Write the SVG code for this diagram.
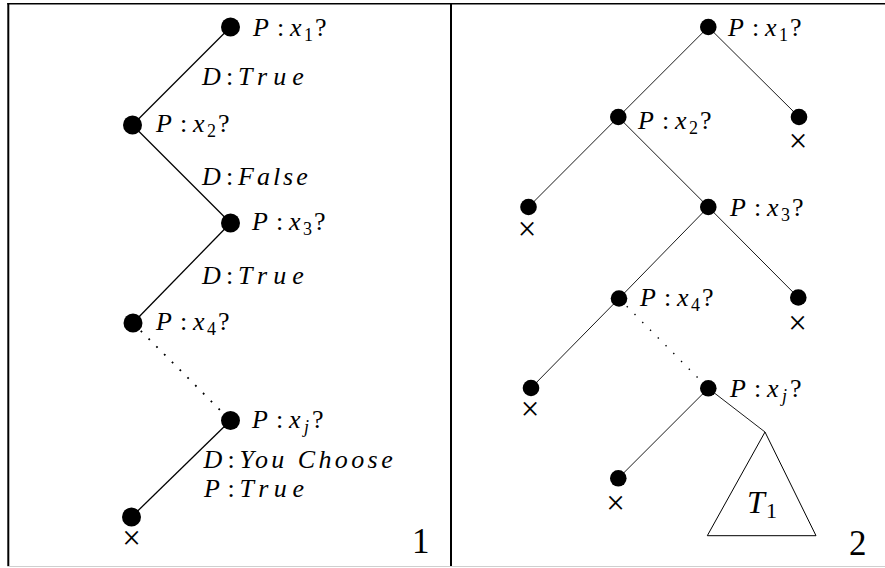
<svg xmlns="http://www.w3.org/2000/svg" width="885" height="568" viewBox="0 0 885 568">
<style>
.t{font-family:"Liberation Serif",serif;font-size:26px;fill:#000}
.i{font-style:italic}
.s{font-size:18px}
.num{font-family:"Liberation Serif",serif;font-size:35px;fill:#000}
.x{font-family:"Liberation Serif",serif;font-size:33px;fill:#000;text-anchor:middle}
.eL{stroke:#000;stroke-width:1.3;fill:none}
.eR{stroke:#000;stroke-width:0.9;fill:none}
.dot{stroke:#000;stroke-width:1.8;stroke-dasharray:1.8 9.2;fill:none}
.frame{stroke:#000;fill:none}
</style>
<rect x="0" y="0" width="885" height="568" fill="#fff"/>
<g id="frame">
<line class="frame" x1="7.3" y1="3.7" x2="885" y2="3.7" stroke-width="1.6"/>
<line class="frame" x1="8.3" y1="3" x2="8.3" y2="566" stroke-width="2"/>
<line class="frame" x1="451" y1="3" x2="451" y2="566" stroke-width="2"/>
<line x1="7.3" y1="566.5" x2="885" y2="566.5" stroke="#cfcfcf" stroke-width="1"/>
</g>
<g id="connectors">
<line class="eL" x1="230.5" y1="27" x2="132.5" y2="125"/>
<line class="eL" x1="132.5" y1="125" x2="230.5" y2="223"/>
<line class="eL" x1="230.5" y1="223" x2="133" y2="323"/>
<line class="dot" x1="133" y1="323" x2="230.5" y2="420.5"/>
<line class="eL" x1="230.5" y1="420.5" x2="131.5" y2="517"/>
<line class="eR" x1="708.3" y1="27" x2="618.3" y2="117"/>
<line class="eR" x1="708.3" y1="27" x2="799" y2="117"/>
<line class="eR" x1="618.3" y1="117" x2="528.5" y2="207"/>
<line class="eR" x1="618.3" y1="117" x2="708.3" y2="207"/>
<line class="eR" x1="708.3" y1="207" x2="619" y2="298.5"/>
<line class="eR" x1="708.3" y1="207" x2="798.3" y2="297.5"/>
<line class="eR" x1="619" y1="298.5" x2="531" y2="388"/>
<line class="dot" x1="619" y1="298.5" x2="708.3" y2="388.3" style="stroke-width:1.4;stroke-dasharray:1.4 9.6"/>
<line class="eR" x1="708.3" y1="388.3" x2="618.3" y2="478.3"/>
<line class="eR" x1="708.3" y1="388.3" x2="765" y2="432"/>
<g id="edge-labels">
<text class="t" x="202" y="85"><tspan class="i">D</tspan><tspan x="226">:</tspan><tspan class="i" x="238" style="letter-spacing:6px">True</tspan></text>
<text class="t" x="202" y="185"><tspan class="i">D</tspan><tspan x="226">:</tspan><tspan class="i" x="238" style="letter-spacing:3px">False</tspan></text>
<text class="t" x="202" y="284"><tspan class="i">D</tspan><tspan x="226">:</tspan><tspan class="i" x="238" style="letter-spacing:6px">True</tspan></text>
<text class="t" x="203.5" y="468"><tspan class="i">D</tspan><tspan x="227.5">:</tspan><tspan class="i" x="239.5" style="letter-spacing:3.4px">You Choose</tspan></text>
<text class="t" x="204" y="497"><tspan class="i">P</tspan><tspan x="227.5">:</tspan><tspan class="i" x="239.5" style="letter-spacing:5.6px">True</tspan></text>
</g>
</g>
<g id="L1"><circle cx="230.5" cy="27" r="9.5"/><text class="t" x="253" y="36"><tspan class="i">P</tspan><tspan x="277">:</tspan><tspan class="i" x="290">x</tspan><tspan class="s" x="304" dy="5">1</tspan><tspan x="315" dy="-5">?</tspan></text></g>
<g id="L2"><circle cx="132.5" cy="125" r="9.5"/><text class="t" x="156" y="132"><tspan class="i">P</tspan><tspan x="180">:</tspan><tspan class="i" x="193">x</tspan><tspan class="s" x="207" dy="5">2</tspan><tspan x="218" dy="-5">?</tspan></text></g>
<g id="L3"><circle cx="230.5" cy="223" r="9.5"/><text class="t" x="252" y="230"><tspan class="i">P</tspan><tspan x="276">:</tspan><tspan class="i" x="289">x</tspan><tspan class="s" x="303" dy="5">3</tspan><tspan x="314" dy="-5">?</tspan></text></g>
<g id="L4"><circle cx="133" cy="323" r="9.5"/><text class="t" x="156" y="330"><tspan class="i">P</tspan><tspan x="180">:</tspan><tspan class="i" x="193">x</tspan><tspan class="s" x="207" dy="5">4</tspan><tspan x="218" dy="-5">?</tspan></text></g>
<g id="Lj"><circle cx="230.5" cy="420.5" r="9.5"/><text class="t" x="252" y="428"><tspan class="i">P</tspan><tspan x="276">:</tspan><tspan class="i" x="289">x</tspan><tspan class="s i" x="304" dy="5">j</tspan><tspan x="312" dy="-5">?</tspan></text></g>
<g id="Lleaf"><circle cx="131.5" cy="517" r="9.5"/><text class="x" x="131.5" y="549">×</text></g>
<g id="R1"><circle cx="708.3" cy="27" r="8.3"/><text class="t" x="728" y="36"><tspan class="i">P</tspan><tspan x="752">:</tspan><tspan class="i" x="765">x</tspan><tspan class="s" x="779" dy="5">1</tspan><tspan x="790" dy="-5">?</tspan></text></g>
<g id="R2"><circle cx="618.3" cy="117" r="8.3"/><text class="t" x="638" y="129"><tspan class="i">P</tspan><tspan x="662">:</tspan><tspan class="i" x="675">x</tspan><tspan class="s" x="689" dy="5">2</tspan><tspan x="700" dy="-5">?</tspan></text></g>
<g id="R3"><circle cx="799" cy="117" r="8.3"/><text class="x" x="798" y="152">×</text></g>
<g id="R4"><circle cx="528.5" cy="207" r="8.3"/><text class="x" x="527" y="240">×</text></g>
<g id="R5"><circle cx="708.3" cy="207" r="8.3"/><text class="t" x="730" y="216"><tspan class="i">P</tspan><tspan x="754">:</tspan><tspan class="i" x="767">x</tspan><tspan class="s" x="781" dy="5">3</tspan><tspan x="792" dy="-5">?</tspan></text></g>
<g id="R6"><circle cx="619" cy="298.5" r="8.3"/><text class="t" x="640" y="306"><tspan class="i">P</tspan><tspan x="664">:</tspan><tspan class="i" x="677">x</tspan><tspan class="s" x="691" dy="5">4</tspan><tspan x="702" dy="-5">?</tspan></text></g>
<g id="R7"><circle cx="798.3" cy="297.5" r="8.3"/><text class="x" x="797.5" y="333.5">×</text></g>
<g id="R8"><circle cx="531" cy="388" r="8.3"/><text class="x" x="530" y="420">×</text></g>
<g id="R9"><circle cx="708.3" cy="388.3" r="8.3"/><text class="t" x="730" y="397"><tspan class="i">P</tspan><tspan x="754">:</tspan><tspan class="i" x="767">x</tspan><tspan class="s i" x="782" dy="5">j</tspan><tspan x="790" dy="-5">?</tspan></text></g>
<g id="R10"><circle cx="618.3" cy="478.3" r="8.3"/><text class="x" x="615.5" y="513.5">×</text></g>
<g id="T1"><polygon points="765,432 707.3,535.7 816,535.7" fill="none" stroke="#000" stroke-width="1"/><text class="t" x="747" y="513" style="font-size:32px"><tspan class="i">T</tspan><tspan x="766" dy="5" style="font-size:22px">1</tspan></text></g>
<text class="num" x="412" y="553">1</text>
<text class="num" x="849" y="555">2</text>
</svg>
